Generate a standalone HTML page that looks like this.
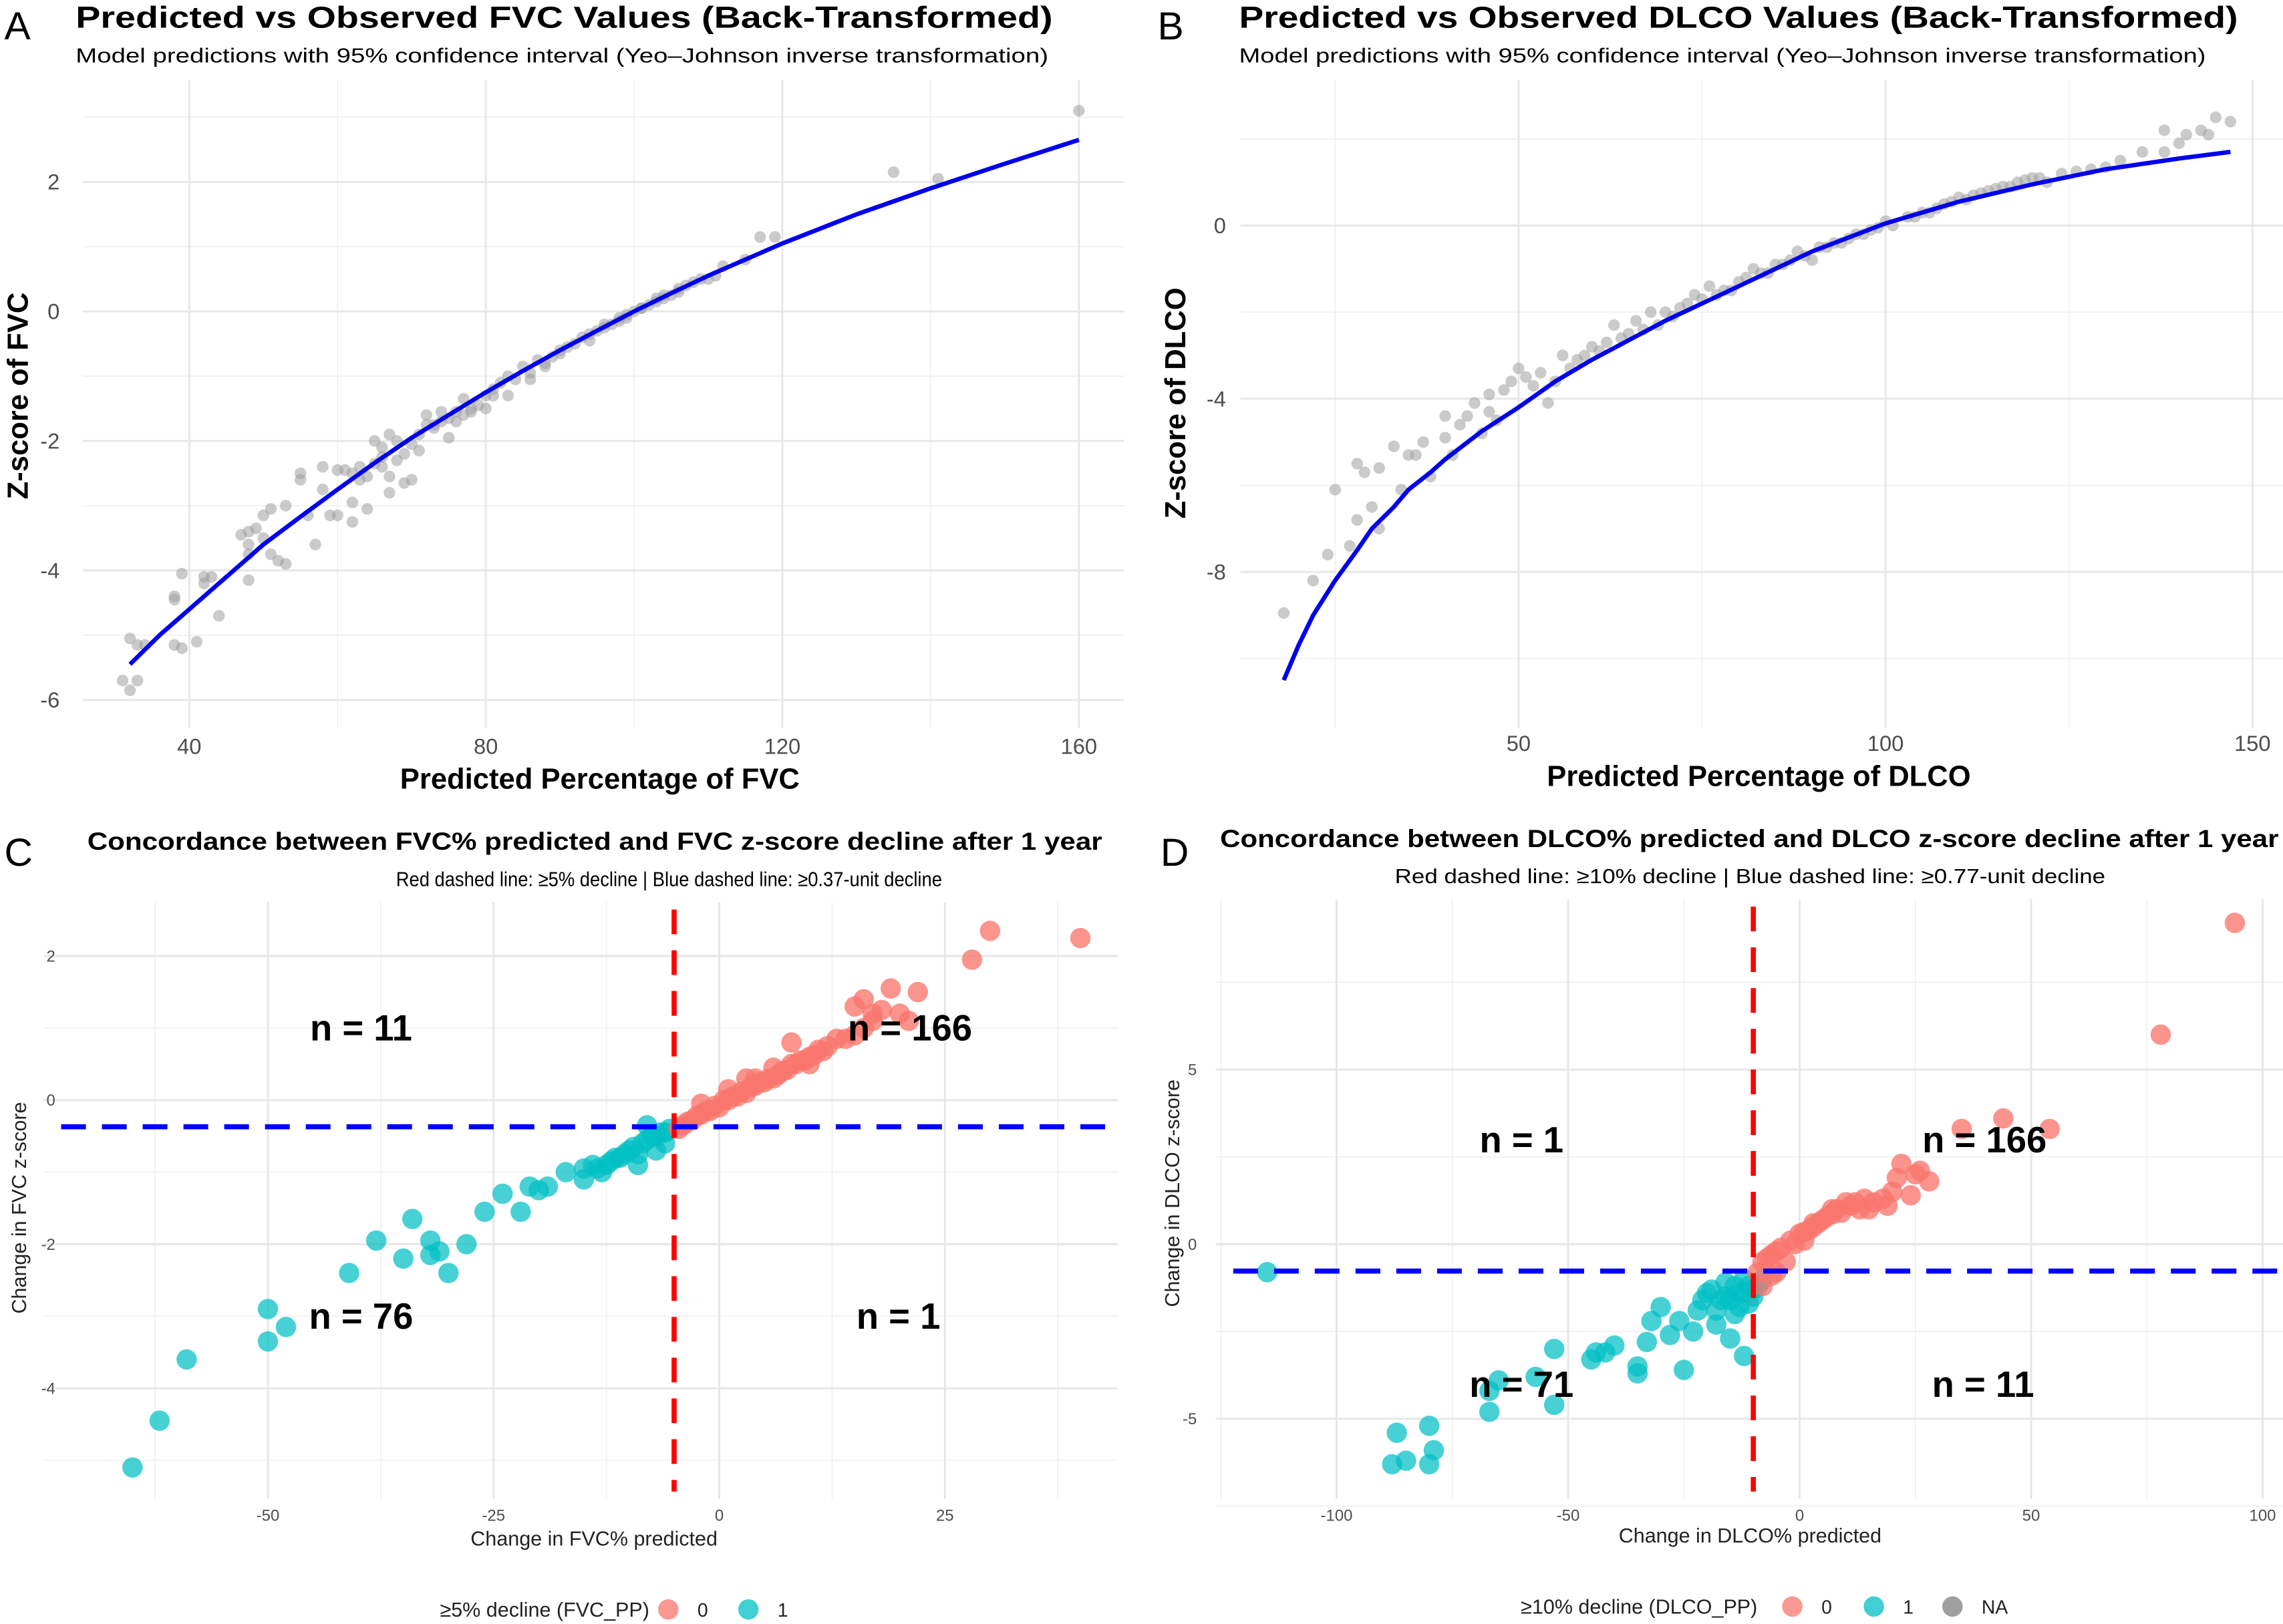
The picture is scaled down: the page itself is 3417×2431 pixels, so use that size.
<!DOCTYPE html>
<html><head><meta charset="utf-8"><style>
html,body{margin:0;padding:0;background:#fff;}
svg{display:block;}
text{font-family:"Liberation Sans","DejaVu Sans",sans-serif;}
</style></head><body>
<svg id="fig" width="3417" height="2431" viewBox="0 0 1568 1116" preserveAspectRatio="none" xmlns="http://www.w3.org/2000/svg">
<rect width="1568" height="1116" fill="#fff"/>
<g font-size="27" fill="#000">
<text x="3" y="27">A</text>
<text x="795" y="27">B</text>
<text x="3" y="595">C</text>
<text x="797" y="595">D</text>
</g>
<g fill="#000">
<text x="52" y="19" font-size="21" font-weight="bold" textLength="671" lengthAdjust="spacingAndGlyphs">Predicted vs Observed FVC Values (Back-Transformed)</text>
<text x="52" y="43" font-size="14" textLength="668" lengthAdjust="spacingAndGlyphs">Model predictions with 95% confidence interval (Yeo–Johnson inverse transformation)</text>
<text x="851" y="19" font-size="21" font-weight="bold" textLength="686" lengthAdjust="spacingAndGlyphs">Predicted vs Observed DLCO Values (Back-Transformed)</text>
<text x="851" y="43" font-size="14" textLength="664" lengthAdjust="spacingAndGlyphs">Model predictions with 95% confidence interval (Yeo–Johnson inverse transformation)</text>
<text x="60" y="584" font-size="17" font-weight="bold" textLength="697" lengthAdjust="spacingAndGlyphs">Concordance between FVC% predicted and FVC z-score decline after 1 year</text>
<text x="272" y="609" font-size="14" textLength="375" lengthAdjust="spacingAndGlyphs">Red dashed line: ≥5% decline | Blue dashed line: ≥0.37-unit decline</text>
<text x="838" y="582" font-size="17" font-weight="bold" textLength="727" lengthAdjust="spacingAndGlyphs">Concordance between DLCO% predicted and DLCO z-score decline after 1 year</text>
<text x="958" y="607" font-size="14" textLength="488" lengthAdjust="spacingAndGlyphs">Red dashed line: ≥10% decline | Blue dashed line: ≥0.77-unit decline</text>
</g>
<g id="pa"></g>
<g id="pb"></g>
<g id="pc"></g>
<g id="pd"></g>
</svg>
<script>
// ---- Panel A data ----
const aPointsX = [31,32,33,32,33,34,38,39,41,38,38,39,42,42,43,44,48,47,48,49,48,48,50,50,51,51,52,53,53,55,55,56,57,58,58,59,60,60,61,62,62,62,63,63,64,64,65,65,66,66,67,67,67,68,68,69,70,70,71,72,72,73,74,74,75,76,76,77,77,78,79,80,80,81,82,83,83,85,86,87,88,89,90,91,93,94,95,96,97,98,99,100,101,102,103,104,105,106,107,109,111,112,115,117,119,135,141,160,66,69,71,73,75,78,81,84,86,88,90,92,94,96,98,99,101,103,104,106,108,110];
const aPointsY = [-5.7,-5.85,-5.7,-5.05,-5.15,-5.15,-5.15,-5.2,-5.1,-4.4,-4.45,-4.05,-4.1,-4.2,-4.1,-4.7,-4.15,-3.45,-3.4,-3.35,-3.75,-3.6,-3.5,-3.15,-3.05,-3.75,-3.85,-3.0,-3.9,-2.6,-2.5,-3.15,-3.6,-2.4,-2.75,-3.15,-3.15,-2.45,-2.45,-2.5,-3.25,-2.95,-2.6,-2.4,-2.55,-3.05,-2.35,-2.0,-2.25,-2.1,-1.9,-2.55,-2.8,-2.3,-2.0,-2.65,-2.6,-2.05,-2.15,-1.75,-1.6,-1.8,-1.7,-1.55,-1.95,-1.55,-1.7,-1.35,-1.6,-1.55,-1.45,-1.3,-1.5,-1.2,-1.1,-1.0,-1.3,-0.85,-1.05,-0.75,-0.85,-0.7,-0.6,-0.55,-0.4,-0.45,-0.3,-0.2,-0.2,-0.1,-0.05,0,0.05,0.1,0.2,0.25,0.25,0.35,0.4,0.5,0.55,0.7,0.8,1.15,1.15,2.15,2.05,3.1,-2.4,-2.2,-1.9,-1.75,-1.65,-1.5,-1.3,-1.05,-0.95,-0.8,-0.65,-0.5,-0.35,-0.25,-0.15,-0.1,0.05,0.15,0.2,0.3,0.45,0.5];
const aCurveX = [32,36,40,45,50,55,60,65,70,75,80,85,90,95,100,105,110,120,130,140,150,160];
const aCurveY = [-5.45,-5.0,-4.6,-4.1,-3.6,-3.17,-2.75,-2.34,-1.95,-1.6,-1.25,-0.92,-0.6,-0.3,0,0.28,0.55,1.05,1.5,1.9,2.28,2.65];
const aXTicks = [40,80,120,160];
const aYTicks = [-6,-4,-2,0,2];
// ---- Panel B data ----
const bPointsX = [18,22,24,25,27,28,28,29,30,31,31,33,34,35,36,37,38,40,40,41,42,43,44,45,46,46,47,48,49,50,51,52,53,54,55,56,57,58,60,62,63,64,65,66,68,70,72,74,75,76,78,80,82,84,86,88,90,92,94,96,98,100,103,105,107,110,112,114,116,118,120,122,124,126,128,130,132,135,138,140,141,145,147,138,143,144,59,61,67,69,71,73,77,79,81,83,85,87,89,91,93,95,97,99,101,104,106,108,109,111,113,115,117,119,121];
const bPointsY = [-8.95,-8.2,-7.6,-6.1,-7.4,-6.8,-5.5,-5.7,-6.5,-7.0,-5.6,-5.1,-6.1,-5.3,-5.3,-5.0,-5.8,-4.9,-4.4,-5.3,-4.6,-4.4,-4.1,-4.8,-4.3,-3.9,-4.5,-3.8,-3.6,-3.3,-3.5,-3.7,-3.4,-4.1,-3.6,-3.0,-3.3,-3.1,-2.8,-2.7,-2.3,-2.6,-2.5,-2.2,-2.0,-2.0,-1.9,-1.6,-1.7,-1.4,-1.5,-1.3,-1.0,-1.1,-0.9,-0.6,-0.8,-0.5,-0.4,-0.2,-0.1,0.1,0.2,0.3,0.4,0.65,0.7,0.8,0.9,1.0,1.1,1.0,1.2,1.25,1.3,1.35,1.5,1.7,1.7,1.9,2.1,2.5,2.4,2.2,2.2,2.1,-3.0,-2.9,-2.4,-2.3,-2.1,-1.8,-1.6,-1.5,-1.2,-1.1,-0.9,-0.8,-0.7,-0.5,-0.4,-0.3,-0.2,-0.05,0.0,0.2,0.3,0.5,0.55,0.6,0.75,0.85,0.9,1.05,1.1];
const bCurveX = [18,20,22,25,28,30,33,35,38,40,45,50,55,60,70,80,90,100,110,120,130,140,147];
const bCurveY = [-10.5,-9.7,-9.0,-8.2,-7.5,-7.0,-6.5,-6.1,-5.7,-5.4,-4.75,-4.2,-3.6,-3.1,-2.2,-1.4,-0.6,0.05,0.55,0.95,1.3,1.55,1.7];
const bXTicks = [50,100,150];
const bYTicks = [-8,-4,0];
// ---- Panel C data ----
const cTealX = [-65,-62,-59,-50,-50,-48,-41,-38,-35,-34,-32,-32,-31,-30,-28,-26,-24,-22,-21,-20,-19,-17,-15,-15,-14,-13,-12,-11,-10,-9,-8,-7,-6,-6,-8,-5.5,-13.5,-12.5,-11.5,-10.5,-9.5,-8.5,-7.5,-6.5,-9,-7];
const cTealY = [-5.1,-4.45,-3.6,-2.9,-3.35,-3.15,-2.4,-1.95,-2.2,-1.65,-1.95,-2.15,-2.1,-2.4,-2.0,-1.55,-1.3,-1.55,-1.2,-1.25,-1.2,-1.0,-1.1,-0.95,-0.9,-1.0,-0.85,-0.8,-0.7,-0.75,-0.55,-0.5,-0.45,-0.6,-0.35,-0.4,-0.95,-0.9,-0.8,-0.75,-0.65,-0.6,-0.5,-0.45,-0.9,-0.7];
const cRedX = [-4,-3,-2,-1,0,1,2,3,4,5,6,7,8,9,10,11,12,13,15,16,15,16,17,19,20,21,22,28,30,40,8,3,6,10,-2,1,4,-4.5,-3.5,-2.5,-1.5,-0.5,0.5,1.5,2.5,3.5,4.5,5.5,6.5,7.5,8.5,9.5,10.5,11.5,14,17,18];
const cRedY = [-0.35,-0.28,-0.2,-0.15,-0.1,0,0.05,0.1,0.2,0.25,0.3,0.4,0.5,0.55,0.6,0.7,0.75,0.85,0.9,1.0,1.3,1.4,1.2,1.55,1.2,1.1,1.5,1.95,2.35,2.25,0.8,0.3,0.45,0.5,-0.05,0.15,0.3,-0.4,-0.3,-0.22,-0.15,-0.08,0.0,0.05,0.12,0.18,0.25,0.3,0.35,0.42,0.5,0.55,0.62,0.68,0.85,1.1,1.25];
const cXTicks = [-50,-25,0,25];
const cYTicks = [-4,-2,0,2];
const cThreshX = [-5];
const cThreshY = [-0.37];
const cCounts = ["n = 11","n = 166","n = 76","n = 1"];
// ---- Panel D data ----
const dTealX = [-115,-87,-88,-85,-80,-79,-80,-67,-67,-65,-57,-53,-53,-45,-44,-42,-40,-35,-35,-33,-32,-30,-28,-26,-25,-23,-22,-20,-18,-17,-16,-15,-14,-13,-12,-12,-11,-10,-9,-8,-21,-19,-16,-14,-12,-11,-13,-15,-18,-10];
const dTealY = [-0.8,-5.4,-6.3,-6.2,-6.3,-5.9,-5.2,-4.2,-4.8,-3.9,-3.8,-4.6,-3.0,-3.3,-3.1,-3.1,-2.9,-3.5,-3.7,-2.8,-2.2,-1.8,-2.6,-2.2,-3.6,-2.5,-1.9,-1.4,-2.3,-1.6,-1.1,-2.7,-2.0,-1.4,-3.2,-1.0,-1.7,-1.5,-1.2,-1.0,-1.6,-1.3,-1.5,-1.2,-1.4,-1.2,-1.8,-1.6,-1.9,-1.3];
const dRedX = [-9,-8,-6,-4,-2,0,2,4,6,8,10,12,15,18,20,22,25,28,35,44,54,78,94,3,7,14,-5,-3,1,-7,-5,-1,1,3,5,7,9,11,13,16,19,21,24,26,-8,-6];
const dRedY = [-0.8,-0.5,-0.3,-0.1,0.1,0.3,0.4,0.6,0.8,1.0,1.2,1.2,1.0,1.3,1.5,2.3,2.0,1.8,3.3,3.6,3.3,6.0,9.2,0.6,1.0,1.3,-0.8,-0.5,0.1,-0.4,-0.2,0.0,0.35,0.5,0.7,0.85,0.9,1.1,1.0,1.2,1.1,1.9,1.4,2.1,-1.2,-0.9];
const dXTicks = [-100,-50,0,50,100];
const dYTicks = [-5,0,5];
const dThreshX = [-10];
const dThreshY = [-0.77];
const dCounts = ["n = 1","n = 166","n = 71","n = 11"];

const NS = "http://www.w3.org/2000/svg";
function mk(tag, attrs, parent){const e=document.createElementNS(NS,tag);for(const k in attrs)e.setAttribute(k,attrs[k]);parent.appendChild(e);return e;}
function lin(d0,d1,r0,r1){return v=>r0+(v-d0)*(r1-r0)/(d1-d0);}

function frame(g, box, sx, sy, minorX, minorY, xt, yt, tickFont, tickY, tickXPos){
  minorX.forEach(v=>{const l=mk('line',{x1:sx(v),x2:sx(v),y1:box.t,y2:box.b,stroke:'#f0f0f0','stroke-width':0.8},g);
    
    });
  minorY.forEach(v=>{const l=mk('line',{x1:box.l,x2:box.r,y1:sy(v),y2:sy(v),stroke:'#f0f0f0','stroke-width':0.8},g);
    
    });
  xt.forEach(v=>{const l=mk('line',{x1:sx(v),x2:sx(v),y1:box.t,y2:box.b,stroke:'#e6e6e6','stroke-width':1.3},g);
    
    
    const t=mk('text',{x:sx(v),y:tickY,'text-anchor':'middle','font-size':tickFont,fill:'#4d4d4d'},g);t.textContent=v;
    
    });
  yt.forEach(v=>{const l=mk('line',{x1:box.l,x2:box.r,y1:sy(v),y2:sy(v),stroke:'#e6e6e6','stroke-width':1.3},g);
    
    
    const t=mk('text',{x:tickXPos,y:sy(v)+tickFont*0.35,'text-anchor':'end','font-size':tickFont,fill:'#4d4d4d'},g);t.textContent=v;
    
    });
}
function axisTitles(g, xt, xx, xy, yt, yx, yy, size, bold){
  const a=mk('text',{x:xx,y:xy,'text-anchor':'middle','font-size':size,'font-weight':bold?'bold':'normal',fill:bold?'#000':'#222'},g);a.textContent=xt;
  
  
  const b=mk('text',{x:yx,y:yy,'text-anchor':'middle','font-size':size,'font-weight':bold?'bold':'normal',fill:bold?'#000':'#222',transform:`rotate(-90 ${yx} ${yy})`},g);b.textContent=yt;
  
  
}
function pts(g, xs, ys, sx, sy, r, fill, op, name){
  xs.forEach((x,i)=>{const c=mk('circle',{cx:sx(x),cy:sy(ys[i]),r:r,fill:fill,'fill-opacity':op},g);
    
    });
}
function curve(g, xs, ys, sx, sy, name){
  const d=xs.map((x,i)=>(i?'L':'M')+sx(x).toFixed(1)+','+sy(ys[i]).toFixed(1)).join('');
  const p=mk('path',{d:d,fill:'none',stroke:'#0000ee','stroke-width':3,'stroke-linejoin':'round'},g);
  
  
}

// Panel A
(function(){const g=document.getElementById('pa');
 const sx=lin(40,160,130,741), sy=lin(0,2,214,125);
 frame(g,{l:57,r:772,t:55,b:500},sx,sy,[60,100,140],[3,1,-1,-3,-5],aXTicks,aYTicks,15,518,41);
 pts(g,aPointsX,aPointsY,sx,sy,4,'#9e9e9e',0.55,'observed-point');
 curve(g,aCurveX,aCurveY,sx,sy,'fitted-curve');
 axisTitles(g,'Predicted Percentage of FVC',412,542,'Z-score of FVC',19,272,20,true);
})();
// Panel B
(function(){const g=document.getElementById('pb');
 const sx=lin(50,100,1043,1295), sy=lin(0,-4,155,274);
 frame(g,{l:852,r:1568,t:55,b:500},sx,sy,[25,75,125],[2,-2,-6,-10],bXTicks,bYTicks,15,516,842);
 pts(g,bPointsX,bPointsY,sx,sy,4,'#9e9e9e',0.55,'observed-point');
 curve(g,bCurveX,bCurveY,sx,sy,'fitted-curve');
 axisTitles(g,'Predicted Percentage of DLCO',1208,540,'Z-score of DLCO',814,277,20,true);
})();
function concord(id, sx, sy, box, minorX, minorY, xt, yt, teal, red, tx, ty, counts, cpos, xtitle, ytitle, xtpos, ytpos, tickXPos, legend){
 const g=document.getElementById(id);
 frame(g,box,sx,sy,minorX,minorY,xt,yt,11,1045,tickXPos);
 pts(g,teal[0],teal[1],sx,sy,7,'#00BFC4',0.72,'point-decline-1');
 pts(g,red[0],red[1],sx,sy,7,'#F8766D',0.78,'point-decline-0');
 tx.forEach(v=>{const l=mk('line',{x1:sx(v),x2:sx(v),y1:box.t+5,y2:box.b-5,stroke:'#ff0000','stroke-width':3.5,'stroke-dasharray':'17 11'},g);
   
   });
 ty.forEach(v=>{const l=mk('line',{x1:box.l+12,x2:box.r-3,y1:sy(v),y2:sy(v),stroke:'#0000ff','stroke-width':3.5,'stroke-dasharray':'17 11'},g);
   
   });
 counts.forEach((c,i)=>{const t=mk('text',{x:cpos[i][0],y:cpos[i][1]+8,'text-anchor':'middle','font-size':25,'font-weight':'bold',fill:'#000'},g);t.textContent=c;
   
   });
 axisTitles(g,xtitle,xtpos[0],xtpos[1],ytitle,ytpos[0],ytpos[1],14,false);
 const lg=mk('g',{},g);
 
 
 const lt=mk('text',{x:legend.textEnd,y:legend.y+5,'text-anchor':'end','font-size':14,fill:'#222'},lg);lt.textContent=legend.title;
 
 
 legend.items.forEach(it=>{const c=mk('circle',{cx:it[0],cy:legend.y,r:7,fill:it[1],'fill-opacity':0.75},lg);
   
   
   const t=mk('text',{x:it[0]+20,y:legend.y+5,'font-size':13,fill:'#222'},lg);t.textContent=it[2];
   
   });
}
concord('pc',lin(0,25,494,649),lin(0,2,756,657),{l:30,r:768,t:620,b:1030},[-62.5,-37.5,-12.5,12.5,37.5],[1,-1,-3,-5],cXTicks,cYTicks,
 [cTealX,cTealY],[cRedX,cRedY],cThreshX,cThreshY,cCounts,[[248,707],[625,707],[248,905],[617,905]],
 'Change in FVC% predicted','Change in FVC z-score',[408,1062],[18,830],38,
 {y:1106,textEnd:446,title:'≥5% decline (FVC_PP)',items:[[459,'#F8766D','0'],[514,'#00BFC4','1']]});
concord('pd',lin(0,50,1236,1395),lin(0,5,855,735),{l:835,r:1568,t:618,b:1030},[-125,-75,-25,25,75],[7.5,2.5,-2.5,-7.5],dXTicks,dYTicks,
 [dTealX,dTealY],[dRedX,dRedY],dThreshX,dThreshY,dCounts,[[1045,784],[1363,784],[1045,952],[1362,952]],
 'Change in DLCO% predicted','Change in DLCO z-score',[1202,1060],[810,820],822,
 {y:1104,textEnd:1207,title:'≥10% decline (DLCO_PP)',items:[[1231,'#F8766D','0'],[1287,'#00BFC4','1'],[1341,'#7f7f7f','NA']]});
</script>
</body></html>
